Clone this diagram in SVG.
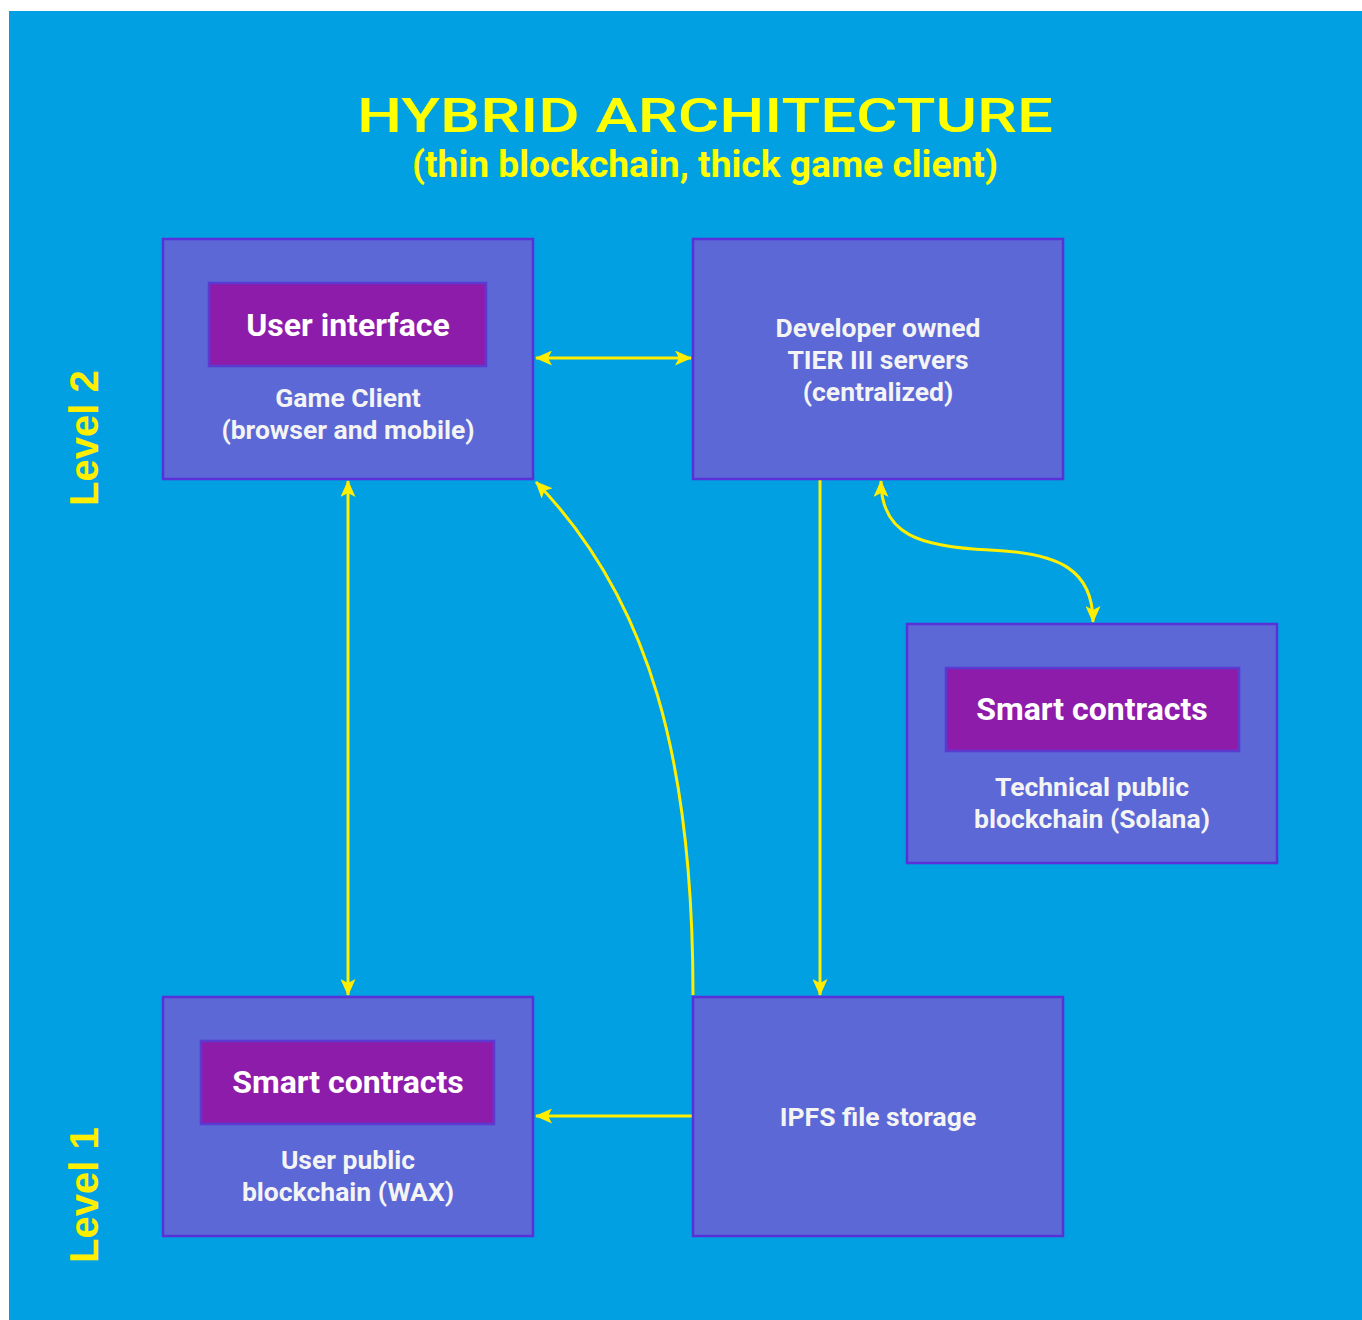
<svg xmlns="http://www.w3.org/2000/svg" width="1362" height="1320" viewBox="0 0 1362 1320">
  <defs>
    <marker id="arrow" viewBox="0 0 17 15" refX="16" refY="7.5" markerWidth="17" markerHeight="15" orient="auto-start-reverse" markerUnits="userSpaceOnUse">
      <path d="M0,0 L17,7.5 L0,15 L4,7.5 Z" fill="#ffee00"/>
    </marker>
    <style>
      .box { fill: #5c68d6; stroke: #5a30d8; stroke-width: 2.5; }
      .inner { fill: #8e1caa; stroke: #5a3ad0; stroke-width: 2.5; }
      .head { font-family: Roboto, "Liberation Sans", sans-serif; font-weight: 700; font-size: 32px; fill: #ffffff; text-anchor: middle; }
      .label { font-family: Roboto, "Liberation Sans", sans-serif; font-weight: 700; font-size: 26.5px; fill: #f4f4f4; text-anchor: middle; }
      .level { font-family: "Liberation Sans", Arial, sans-serif; font-weight: 700; font-size: 40px; fill: #ffee00; }
      .link { fill: none; stroke: #ffee00; stroke-width: 3; }
    </style>
  </defs>

  <!-- backdrop -->
  <rect x="0" y="0" width="1362" height="1320" fill="#ffffff"/>
  <rect x="9" y="11" width="1353" height="1309" fill="#00a0e2"/>

  <!-- title -->
  <text x="705" y="132" font-family="Roboto, 'Liberation Sans', sans-serif" font-weight="500" font-size="48" fill="#ffff00" text-anchor="middle" textLength="696" lengthAdjust="spacingAndGlyphs">HYBRID ARCHITECTURE</text>
  <text x="705" y="177" font-family="Roboto, 'Liberation Sans', sans-serif" font-weight="700" font-size="36" fill="#ffff00" text-anchor="middle" textLength="586" lengthAdjust="spacingAndGlyphs">(thin blockchain, thick game client)</text>

  <!-- level markers -->
  <text class="level" transform="translate(98,506) rotate(-90)">Level 2</text>
  <text class="level" transform="translate(98,1263) rotate(-90)">Level 1</text>

  <!-- connectors -->
  <g id="connectors">
    <line class="link" x1="536" y1="358" x2="691" y2="358" marker-start="url(#arrow)" marker-end="url(#arrow)"/>
    <line class="link" x1="348" y1="481" x2="348" y2="995" marker-start="url(#arrow)" marker-end="url(#arrow)"/>
    <path class="link" d="M693,995 C693,760 650,600 536,482" marker-end="url(#arrow)"/>
    <line class="link" x1="820" y1="480" x2="820" y2="995" marker-end="url(#arrow)"/>
    <path class="link" d="M881,481 C881,535 920,547 990,550 C1060,553 1093,570 1093,622" marker-start="url(#arrow)" marker-end="url(#arrow)"/>
    <line class="link" x1="692" y1="1116" x2="536" y2="1116" marker-end="url(#arrow)"/>
  </g>

  <!-- game client -->
  <g id="game-client">
    <rect class="box" x="163" y="239" width="370" height="240"/>
    <rect class="inner" x="209" y="283" width="277" height="83"/>
    <text class="head" x="348" y="336">User interface</text>
    <text class="label" x="348" y="407">Game Client</text>
    <text class="label" x="348" y="439">(browser and mobile)</text>
  </g>

  <!-- developer servers -->
  <g id="dev-servers">
    <rect class="box" x="693" y="239" width="370" height="240"/>
    <text class="label" x="878" y="337">Developer owned</text>
    <text class="label" x="878" y="369">TIER III servers</text>
    <text class="label" x="878" y="401">(centralized)</text>
  </g>

  <!-- solana -->
  <g id="solana">
    <rect class="box" x="907" y="624" width="370" height="239"/>
    <rect class="inner" x="946" y="668" width="293" height="83"/>
    <text class="head" x="1092" y="720">Smart contracts</text>
    <text class="label" x="1092" y="796">Technical public</text>
    <text class="label" x="1092" y="828">blockchain (Solana)</text>
  </g>

  <!-- wax -->
  <g id="wax">
    <rect class="box" x="163" y="997" width="370" height="239"/>
    <rect class="inner" x="201" y="1041" width="293" height="83"/>
    <text class="head" x="348" y="1093">Smart contracts</text>
    <text class="label" x="348" y="1169">User public</text>
    <text class="label" x="348" y="1201">blockchain (WAX)</text>
  </g>

  <!-- ipfs -->
  <g id="ipfs">
    <rect class="box" x="693" y="997" width="370" height="239"/>
    <text class="label" x="878" y="1126">IPFS file storage</text>
  </g>
</svg>
